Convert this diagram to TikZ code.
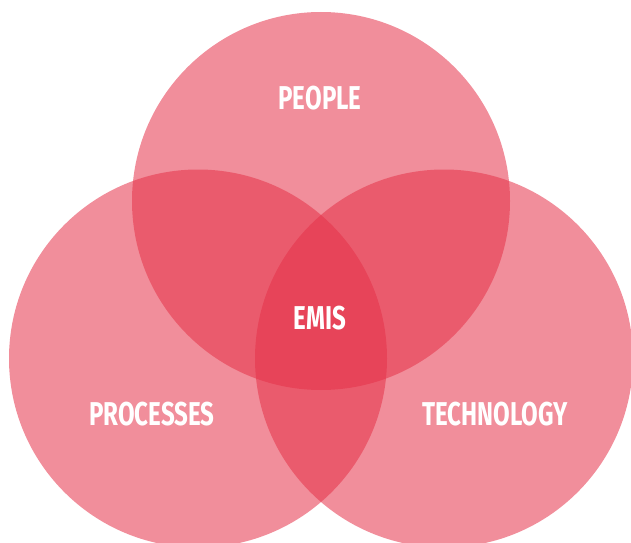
\documentclass[tikz,border=0pt]{standalone}
\usepackage{fontspec}
\setmainfont{Fira Sans}[FakeStretch=0.73]
\usepackage{tikz}
\definecolor{emisred}{RGB}{229,49,72}

\begin{document}
\begin{tikzpicture}[x=1pt, y=1pt,
    set/.style={circle, fill=emisred, fill opacity=0.55, minimum size=378pt, inner sep=0pt},
    setname/.style={text=white, font=\fontsize{33}{33}\selectfont\bfseries}]
        \useasboundingbox (0,0) rectangle (631,542);
        \clip (0,0) rectangle (631,542);

        % Sets
        \node (people) [set] at (321,341) {};
        \node (processes) [set] at (198,183.5) {};
        \node (technology) [set] at (444,183.5) {};

        % Names
        \node (peopletxt) [setname] at (320,443.5) {PEOPLE};
        \node (emis) [setname] at (320,224) {EMIS};
        \node (processestxt) [setname] at (152,127.5) {PROCESSES};
        \node (technologytxt) [setname] at (495,127.5) {TECHNOLOGY};
    \end{tikzpicture}
\end{document}
